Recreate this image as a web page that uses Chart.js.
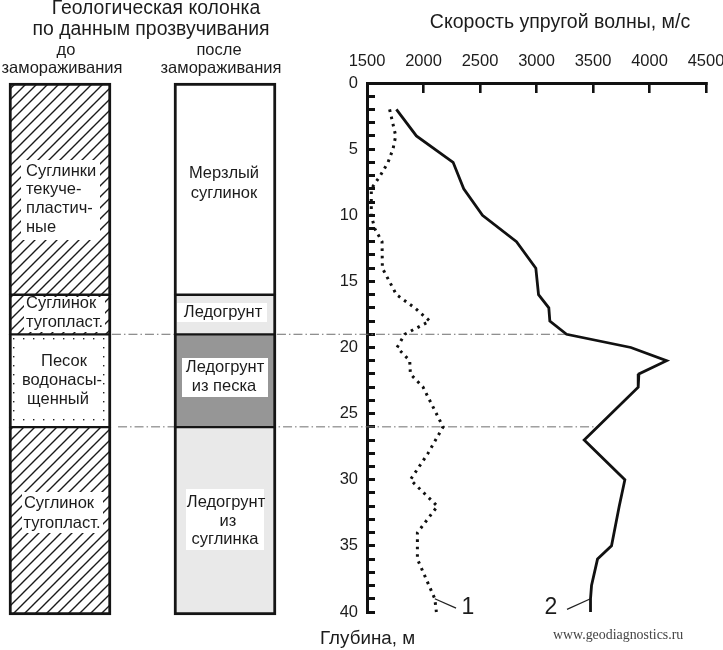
<!DOCTYPE html>
<html><head><meta charset="utf-8">
<style>html,body{margin:0;padding:0;background:#fff}#w{position:relative;width:723px;height:650px;overflow:hidden}canvas{position:absolute;left:0;top:0}</style>
<script src="https://cdn.jsdelivr.net/npm/chart.js@4"></script>
</head><body><div id="w"><canvas id="vel" width="723" height="650"></canvas><canvas id="col" width="723" height="650"></canvas></div>
<script>
// ---- data ----
const velocityTicks=[1500,2000,2500,3000,3500,4000,4500];
const depth1=[2,4,5,6,7,8,10,11,12,14,16,17,18,19,20,21,22,23,26,28,30,32,34,36,38,39,40];
const velocity1=[1700,1754,1730,1686,1618,1538,1538,1568,1633,1636,1760,1922,2055,1834,1766,1878,1884,1996,2173,2040,1884,2123,1946,1946,2049,2100,2114];
const depth2=[2,4,6,8,10,12,14,16,17,18,19,20,21,22,23,27,30,32,35,36,38,39,40];
const velocity2=[1760,1937,2262,2356,2522,2823,2994,3018,3109,3118,3266,3835,4151,3906,3900,3422,3782,3732,3664,3540,3487,3478,3478];
const boundaryDepths=[19,26];
const boundaryFrom=[-757,-703];
const boundaryTo=[3260,3535];
const leader1Depth=[39,39.7], leader1Vel=[2100,2288];
const leader2Depth=[39,39.8], leader2Vel=[3478,3270];
const columnNames=['до замораживания','после замораживания'];
const layersBefore=[[0,16],[16,19],[19,26],[26,40.2]];
const layersAfter=[[0,16],[16,19],[19,26],[26,40.2]];
// ---- styling ----
const FONT='"Liberation Sans", Arial, sans-serif';
function tile(w,h,draw){const c=document.createElement('canvas');c.width=w;c.height=h;const x=c.getContext('2d');x.fillStyle='#fff';x.fillRect(0,0,w,h);draw(x);return x.createPattern(c,'repeat');}
const hatch=tile(11,11,x=>{x.strokeStyle='#1a1a1a';x.lineWidth=1.4;x.beginPath();x.moveTo(-2,13);x.lineTo(13,-2);x.moveTo(-3,3);x.lineTo(3,-3);x.moveTo(8,14);x.lineTo(14,8);x.stroke();});
const dots=tile(10,9,x=>{x.fillStyle='#222';x.fillRect(3,5,1.4,1.4);});
const fillBefore=[hatch,hatch,dots,hatch];
const fillAfter=['#ffffff','#e9e9e9','#969696','#e9e9e9'];
// white label boxes: x,y,w,h
const boxes=[[21,160,79,80],[24,297,81,35],[15,341,87,75],[22,492,81,41],[177,303,90,19],[182,358,86,39],[186,489,78,61]];
const S=16.5;
// text: string,x,y(centre),align,size,colour,family
const texts=[
['Геологическая колонка',156,9,'center',19.4],['по данным прозвучивания',151,30,'center',19.4],
['до',66,50,'center',S],['замораживания',62,68,'center',S],['после',219,50,'center',S],['замораживания',221,68,'center',S],
['Суглинки',26,171,'left',S],['текуче-',26,189,'left',S],['пластич-',26,208,'left',S],['ные',26,227,'left',S],
['Суглинок',26,303,'left',S],['тугопласт.',26,322,'left',S],
['Песок',64,361,'center',S],['водонасы-',62,380,'center',S],['щенный',58,399,'center',S],
['Суглинок',59,503,'center',S],['тугопласт.',62,523,'center',S],
['Мерзлый',224,173,'center',S],['суглинок',224,193,'center',S],
['Ледогрунт',223,312,'center',S],['Ледогрунт',225,367,'center',S],['из песка',224,386,'center',S],
['Ледогрунт',226,502,'center',S],['из',228,521,'center',S],['суглинка',225,539,'center',S],
['Скорость упругой волны, м/с',560,23,'center',19.5],
['Глубина, м',320,639,'left',18.8],
['1',468,608,'center',23],['2',551,608,'center',23],
['www.geodiagnostics.ru',553,635,'left',13.9,'#444','"Liberation Serif", serif']
];
const textPlugin={id:'txt',afterDatasetsDraw(c){const x=c.ctx;x.save();x.fillStyle='#fff';boxes.forEach(b=>x.fillRect(b[0],b[1],b[2],b[3]));
 x.textBaseline='middle';texts.forEach(t=>{x.font=t[4]+'px '+(t[6]||FONT);x.textAlign=t[3];x.fillStyle=t[5]||'#1c1c1c';x.fillText(t[0],t[1],t[2]);});x.restore();}};
function pts(xs,ys){return xs.map((v,i)=>({x:v,y:ys[i]}));}
function noPad(s){s.paddingLeft=s.paddingRight=s.paddingTop=s.paddingBottom=0;}
// ---- velocity chart ----
const lineBase={pointRadius:0,tension:0,fill:false,clip:false};
new Chart(document.getElementById('vel'),{type:'line',
 data:{datasets:[
  {...lineBase,label:'1',data:pts(velocity1,depth1),borderColor:'#111',borderWidth:3,borderDash:[2.6,4.8]},
  {...lineBase,label:'2',data:pts(velocity2,depth2),borderColor:'#111',borderWidth:2.8,borderJoinStyle:'miter'},
  ...boundaryDepths.map((d,i)=>({...lineBase,label:'b'+d,data:pts([boundaryFrom[i],boundaryTo[i]],[d,d]),borderColor:'#6e6e6e',borderWidth:1,borderDash:[9,3,1.5,3]})),
  {...lineBase,label:'l1',data:pts(leader1Vel,leader1Depth),borderColor:'#222',borderWidth:1.3},
  {...lineBase,label:'l2',data:pts(leader2Vel,leader2Depth),borderColor:'#222',borderWidth:1.3}
 ]},
 options:{responsive:false,animation:false,events:[],devicePixelRatio:1,
  layout:{padding:{left:0,top:0,right:17,bottom:38}},
  plugins:{legend:{display:false},title:{display:false},tooltip:{enabled:false}},
  scales:{
   x:{type:'linear',position:'top',min:1500,max:4500,afterBuildTicks(s){s.ticks=velocityTicks.map(v=>({value:v}));},afterFit(s){s.height=83;noPad(s);},
    border:{display:true,color:'#111',width:3},
    grid:{drawOnChartArea:false,tickLength:-10,lineWidth:2.6,color:'#111'},
    ticks:{autoSkip:false,maxRotation:0,padding:22,color:'#1c1c1c',font:{family:FONT,size:16.5},callback:v=>String(v)}},
   y:{type:'linear',reverse:true,min:0,max:40,afterFit(s){s.width=367;noPad(s);},
    border:{display:true,color:'#111',width:3},
    grid:{drawOnChartArea:false,tickLength:-8,lineWidth:3,color:'#111'},
    ticks:{stepSize:1,autoSkip:false,padding:17,color:'#1c1c1c',font:{family:FONT,size:16.5},callback:v=>v%5===0?String(v):''}}
  }}});
// ---- column chart ----
const ds=[];
const sides=i=>({left:3,right:3,top:i===0?3:1.5,bottom:i===3?3:1.5});
layersBefore.forEach((l,i)=>ds.push({label:'before'+i,data:[l,null],backgroundColor:fillBefore[i],borderWidth:sides(i)}));
layersAfter.forEach((l,i)=>ds.push({label:'after'+i,data:[null,l],backgroundColor:fillAfter[i],borderWidth:sides(i)}));
ds.forEach(d=>Object.assign(d,{borderColor:'#151515',borderSkipped:false,barThickness:102,clip:false,grouped:false}));
new Chart(document.getElementById('col'),{type:'bar',
 data:{labels:columnNames,datasets:ds},
 plugins:[textPlugin],
 options:{responsive:false,animation:false,events:[],devicePixelRatio:1,
  layout:{padding:{left:60,top:83,right:498,bottom:35}},
  plugins:{legend:{display:false},tooltip:{enabled:false}},
  scales:{x:{display:false,offset:false,grid:{offset:false}},
          y:{display:false,reverse:true,min:0,max:40.2}}}});
</script></body></html>
